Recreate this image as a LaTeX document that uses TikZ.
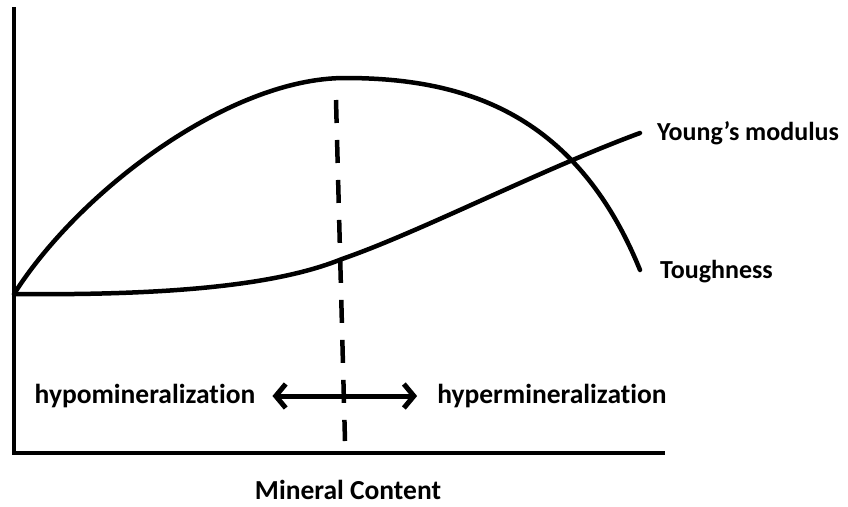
\documentclass[tikz,border=0pt]{standalone}
\usepackage{fontspec}
\setmainfont{Carlito}[Ligatures=NoCommon]
\usetikzlibrary{arrows.meta, positioning}
\tikzset{
  curve/.style={line width=4.5pt, line cap=round}, % the two property curves
  axis/.style={line width=4.5pt}, % the axes
  divider/.style={line width=4.5pt, dash pattern=on 23pt off 17pt}, % vertical dashed line
  label/.style={font=\fontsize{27.5}{30}\selectfont\bfseries, inner sep=0pt}, % all texts
  curvename/.style={font=\fontsize{26}{30}\selectfont\bfseries, inner sep=0pt, anchor=west}, % curve names
}

\begin{document}
\begin{tikzpicture}[x=1pt, y=-1pt]
    % picture frame
    \useasboundingbox (0,0) rectangle (848,506);

    % axes
    \coordinate (O) at (14,453);
    \coordinate (ytop) at (14,7);
    \coordinate (xend) at (665,453);
    \draw[axis] (ytop) -- (O) -- (xend);

    % curve ends
    \coordinate (start) at (14,294);
    \coordinate (peak) at (345,78);
    \coordinate (tend) at (640,270);
    \coordinate (mid) at (342,259);
    \coordinate (yend) at (640,133);

    \node[curvename] (young) at (657,133) {Young’s modulus};
    \node[curvename] (tough) at (660,272) {Toughness};

    % toughness
    \draw[curve] (start) .. controls (80,190) and (230,78) .. (peak)
        .. controls (460,78) and (575,110) .. (tend);
    % young's modulus
    \draw[curve] (start) .. controls (200,296) and (290,280) .. (mid)
        .. controls (420,232) and (540,170) .. (yend);

    % divider
    \coordinate (dtop) at (336,100);
    \coordinate (dbot) at (345,441);
    \draw[divider] (dtop) -- (dbot);

    \node[label] (hypo) at (145,396) {hypomineralization};
    \node[label] (hyper) at (552,396) {hypermineralization};
    \draw[line width=5pt, {Straight Barb[length=10pt,width=24pt]}-{Straight Barb[length=10pt,width=24pt]}]
        ([xshift=17pt]hypo.east) -- ([xshift=-20pt]hyper.west);

    \node[label] (content) at (348,490) {Mineral Content};
\end{tikzpicture}
\end{document}
